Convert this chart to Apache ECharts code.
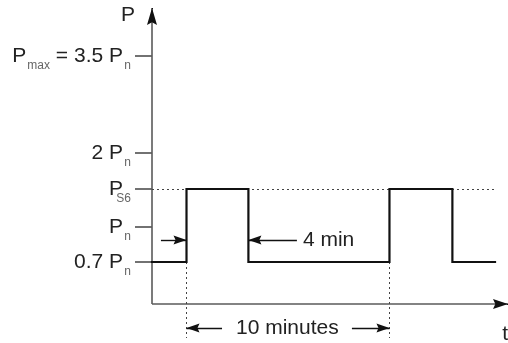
<!DOCTYPE html>
<html><head><meta charset="utf-8">
<script src="https://cdn.jsdelivr.net/npm/echarts@6/dist/echarts.min.js"></script>
<style>html,body{margin:0;padding:0;background:#fff}#c{width:508px;height:343px}</style>
</head><body><div id="c"></div>
<script>
// ---- data (schematic drawing units) ----
// power levels: positions on the (non-to-scale) power axis
const levelLabels = ['0.7 P_n', 'P_n', 'P_S6', '2 P_n', 'P_max = 3.5 P_n'];
const levelValues = [42, 77, 115, 151, 248];
const baseLevel = 42;     // 0.7 Pn
const pulseLevel = 115;   // PS6
// time (minutes, schematic): switching instants of the duty cycle
const switchTimes = [1.7, 4.75, 11.7, 14.8];
const endTime = 16.9;
const tMax = 17.54;
const pMax = 296;
const pMin = -39;
// annotation arrows: [fromT, toT, level]
const pulseArrowIn = [0.44, 1.7, 64];
const pulseArrowOut = [7.14, 4.75, 64];
const periodArrowL = [3.45, 1.7, -24];
const periodArrowR = [9.85, 11.7, -24];
const dropLineBottom = -34;

const FONT = '"Liberation Sans", Arial, Helvetica, sans-serif';
const TXT = '#222';
const FS = 21;
const ARROW = 'path://M5,0 L10,16 L5,13.5 L0,16 Z';

// waveform points built from the switching times
const wave = [[0, baseLevel]];
switchTimes.forEach((t, i) => {
  const from = i % 2 === 0 ? baseLevel : pulseLevel;
  const to = i % 2 === 0 ? pulseLevel : baseLevel;
  wave.push([t, from], [t, to]);
});
wave.push([endTime, baseLevel]);

function richLabel(s) {
  return s.replace(/P_(\w+)( ?)/g, (m, sub, sp) => {
    const tag = sub === 'max' ? 'sx' : 's';
    return '{m|P}{' + tag + '|' + sub + '}' + (sp ? '{m| }' : '');
  }).replace(/(^|\})([^{}]+?)(?=\{|$)/g, (m, a, b) => a + '{m|' + b + '}');
}

function arrowLine(a, w, h, color, label) {
  return [
    { coord: [a[0], a[2]], symbol: 'none', lineStyle: { color: color, width: 1.4, type: 'solid' },
      label: label || { show: false } },
    { coord: [a[1], a[2]], symbol: ARROW, symbolSize: [w, h], symbolOffset: [0, h / 2] }
  ];
}

const arrowColor = '#111';
const axisColor = '#5a5a5a';
const markData = [
  // y axis
  [{ coord: [0, 0], symbol: 'none', lineStyle: { color: axisColor, width: 1.6, type: 'solid' } },
   { coord: [0, pMax], symbol: 'none' }],
  [{ coord: [0, pMax - 1], symbol: 'none', lineStyle: { color: arrowColor, width: 1, type: 'solid' } },
   { coord: [0, pMax], symbol: ARROW, symbolSize: [10, 17], symbolOffset: [0, 8.5] }],
  // x axis
  [{ coord: [0, 0], symbol: 'none', lineStyle: { color: axisColor, width: 1.6, type: 'solid' } },
   { coord: [tMax, 0], symbol: 'none' }],
  [{ coord: [tMax - 0.05, 0], symbol: 'none', lineStyle: { color: arrowColor, width: 1, type: 'solid' } },
   { coord: [tMax, 0], symbol: ARROW, symbolSize: [10, 15], symbolOffset: [0, 7.5] }],
  // PS6 dotted reference line
  [{ coord: [0, pulseLevel], symbol: 'none', lineStyle: { color: '#444', width: 1, type: [2, 3] } },
   { coord: [endTime, pulseLevel], symbol: 'none' }],
  // vertical dotted drop lines
  [{ coord: [switchTimes[0], baseLevel], symbol: 'none', lineStyle: { color: '#444', width: 1, type: [2, 3] } },
   { coord: [switchTimes[0], dropLineBottom], symbol: 'none' }],
  [{ coord: [switchTimes[2], baseLevel], symbol: 'none', lineStyle: { color: '#444', width: 1, type: [2, 3] } },
   { coord: [switchTimes[2], dropLineBottom], symbol: 'none' }],
  arrowLine(pulseArrowIn, 9, 13, arrowColor),
  arrowLine(pulseArrowOut, 9, 13, arrowColor, {
    show: true, position: 'start', distance: 6, formatter: '4 min',
    color: TXT, fontSize: FS, fontFamily: FONT
  }),
  arrowLine(periodArrowL, 9, 13, arrowColor, {
    show: true, position: 'start', distance: 14, formatter: '10 minutes',
    color: TXT, fontSize: FS, fontFamily: FONT
  }),
  arrowLine(periodArrowR, 9, 13, arrowColor)
];

const chart = echarts.init(document.getElementById('c'), null, { renderer: 'canvas' });
chart.setOption({
  animation: false,
  backgroundColor: '#fff',
  grid: { left: 152, right: 0, top: 8, bottom: 0, containLabel: false, outerBoundsMode: 'none' },
  xAxis: {
    type: 'value', min: 0, max: tMax,
    axisLine: { show: true, onZero: true, lineStyle: { opacity: 0 } },
    axisTick: { show: false }, axisLabel: { show: false }, splitLine: { show: false },
    name: 't', nameLocation: 'end', nameGap: 0, nameMoveOverlap: false,
    nameTextStyle: { color: TXT, fontSize: FS, fontFamily: FONT, align: 'right', verticalAlign: 'top', padding: [20, 0, 0, 0] }
  },
  yAxis: {
    type: 'value', min: pMin, max: pMax,
    axisLine: { show: true, onZero: true, lineStyle: { opacity: 0 } },
    splitLine: { show: false },
    axisTick: { show: true, customValues: levelValues, length: 17, lineStyle: { color: '#444', width: 1.5 } },
    axisLabel: {
      show: true, customValues: levelValues, margin: 21,
      formatter: function (v) {
        const i = levelValues.indexOf(v);
        return i < 0 ? '' : richLabel(levelLabels[i]);
      },
      rich: {
        m: { fontSize: FS, color: TXT, fontFamily: FONT, lineHeight: 20 },
        s: { fontSize: 12, color: '#666', fontFamily: FONT, lineHeight: 12, padding: [20, 0, 0, 1], width: 7 },
        sx: { fontSize: 12, color: '#666', fontFamily: FONT, lineHeight: 12, padding: [20, 0, 0, 1] }
      }
    },
    name: 'P', nameLocation: 'end', nameGap: -7, nameMoveOverlap: false,
    nameTextStyle: { color: TXT, fontSize: FS, fontFamily: FONT, align: 'right', verticalAlign: 'middle', padding: [0, 17, 0, 0] }
  },
  series: [
    {
      type: 'line', data: [], silent: true, z: 1,
      markLine: { silent: true, animation: false, symbol: 'none', label: { show: false }, data: markData, z: 1 }
    },
    {
      type: 'line', data: wave, showSymbol: false, symbol: 'none', silent: true, z: 3,
      lineStyle: { color: '#111', width: 2.2, join: 'miter', cap: 'square' }
    }
  ]
});
</script>
</body></html>
